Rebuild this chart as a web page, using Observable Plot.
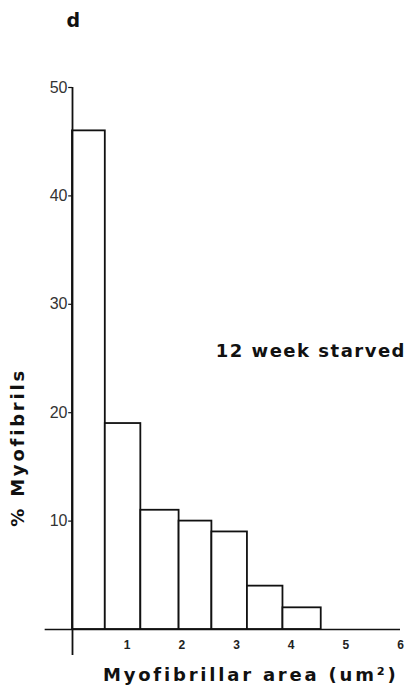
<!DOCTYPE html>
<html>
<head>
<meta charset="utf-8">
<script src="https://cdn.jsdelivr.net/npm/d3@7"></script>
<script src="https://cdn.jsdelivr.net/npm/@observablehq/plot@0.6"></script>
<style>
  html, body { margin: 0; padding: 0; background: #fff; }
  svg { display: block; }
</style>
</head>
<body>
<div id="chart"></div>
<script>
const binStart = [0, 0.6, 1.25, 1.95, 2.55, 3.2, 3.85];
const binEnd   = [0.6, 1.25, 1.95, 2.55, 3.2, 3.85, 4.55];
const percent  = [46, 19, 11, 10, 9, 4, 2];
const yTicks = [10, 20, 30, 40, 50];
const xTicks = [1, 2, 3, 4, 5, 6];
const xLabel = "Myofibrillar area (um²)";
const yLabel = "% Myofibrils";
const note = "12 week starved";
const panel = "d";

const bars = percent.map((v, i) => ({x1: binStart[i], x2: binEnd[i], y: v}));
const font = "'Liberation Sans', Arial, Helvetica, sans-serif";
const boldFont = "'DejaVu Sans', 'Liberation Sans', sans-serif";

const chart = Plot.plot({
  width: 413,
  height: 696,
  marginLeft: 72,
  marginRight: 13,
  marginTop: 87,
  marginBottom: 67,
  style: {fontFamily: font, background: "#fff", color: "#111"},
  x: {type: "linear", domain: [0, 6], axis: null},
  y: {type: "linear", domain: [0, 50], axis: null},
  marks: [
    Plot.rectY(bars, {x1: "x1", x2: "x2", y1: 0, y2: "y", fill: "white", stroke: "#111", strokeWidth: 1.8}),
    Plot.ruleY([0], {x1: -0.5, x2: 6, stroke: "#111", strokeWidth: 1.5}),
    Plot.ruleX([0], {y1: -2.4, y2: 50, stroke: "#111", strokeWidth: 1.8}),
    Plot.ruleY(yTicks, {y: d => d, x1: -0.07, x2: 0, stroke: "#111", strokeWidth: 1.2}),
    Plot.text(yTicks, {y: d => d, x: 0, text: d => String(d), dx: -5, textAnchor: "end", fontSize: 16, fill: "#333"}),
    Plot.text(xTicks, {x: d => d, y: 0, text: d => String(d), dy: 16, fontSize: 12, fontWeight: "bold", fill: "#222"}),
    Plot.text([xLabel], {x: 3.26, y: 0, dy: 46, text: d => d, fontFamily: boldFont, fontSize: 18, fontWeight: "bold", fill: "#111"}),
    Plot.text([yLabel], {x: -1, y: 16.8, text: d => d, textAnchor: "middle", rotate: -90, fontFamily: boldFont, fontSize: 18, fontWeight: "bold", fill: "#111"}),
    Plot.text([note], {x: 4.36, y: 25.7, text: d => d, fontFamily: boldFont, fontSize: 18, fontWeight: "bold", fill: "#111"}),
    Plot.text([panel], {frameAnchor: "top-left", text: d => d, dx: -6, dy: -74, fontFamily: boldFont, fontSize: 19, fontWeight: "bold", fill: "#111"})
  ]
});
const spacing = new Map([[xLabel, "2.8px"], [yLabel, "2.8px"], [note, "1.5px"]]);
d3.select(chart).selectAll("text").each(function() {
  const s = spacing.get(this.textContent);
  if (s) this.setAttribute("letter-spacing", s);
});
document.getElementById("chart").appendChild(chart);
</script>
</body>
</html>
